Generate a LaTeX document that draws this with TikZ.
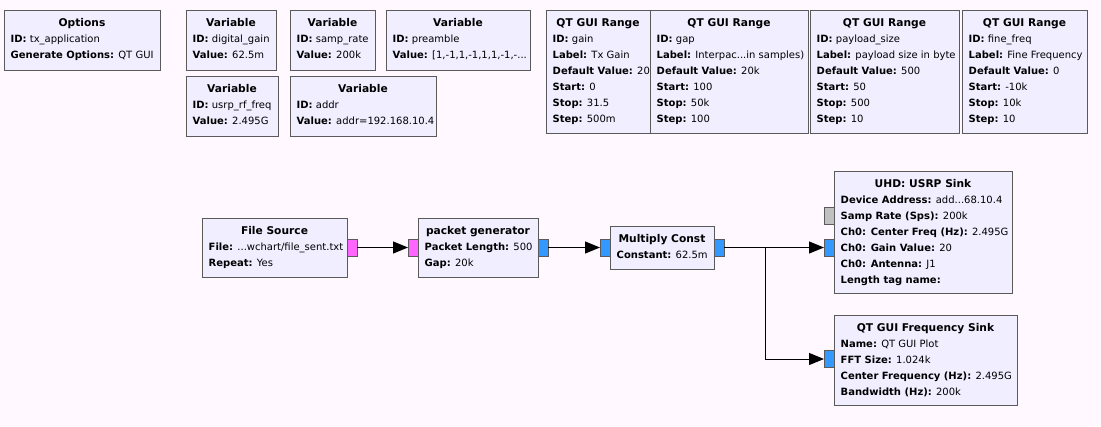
\documentclass[tikz,border=0pt]{standalone}
\usepackage{fontspec}
\setmainfont{DejaVu Sans}
\usetikzlibrary{arrows.meta}
\definecolor{canvas}{HTML}{FFF9FF}
\definecolor{blockfill}{HTML}{F0EEFF}
\definecolor{blockline}{HTML}{5A5A5A}
\definecolor{byteport}{HTML}{FF66FF}
\definecolor{cplxport}{HTML}{3399FF}
\definecolor{msgport}{HTML}{C0C0C0}
\tikzset{
  blockbox/.style={draw=blockline, fill=blockfill, line width=1pt, rectangle, inner sep=0pt, outer sep=0pt},
  port/.style={draw=blockline, line width=1pt, rectangle, inner sep=0pt, outer sep=0pt, minimum width=10pt, minimum height=17pt},
  conn/.style={draw=black, line width=1pt, -{Triangle[length=15pt,width=12pt]}},
  titletext/.style={anchor=base, inner sep=0pt, font=\bfseries\fontsize{10.67}{12}\selectfont},
  paramtext/.style={anchor=base west, inner sep=0pt, font=\fontsize{10}{12}\selectfont},
}
\newcommand\grcblock[6]{%
  \node[blockbox, minimum width={(#4-#2)*1pt}, minimum height={(#5-#3)*1pt}] (#1) at ({(#2+#4)/2},{(#3+#5)/2}) {};
  \node[titletext] (#1-t) at ([yshift=-16.5pt]#1.north) {#6};
}
\newcommand\grcparam[4]{%
  \node[paramtext] (#1-#2) at ([xshift=6.5pt,yshift={-(16.5+16*#2)*1pt}]#1.north west) {\textbf{#3:} #4};
}
\newcommand\grcport[6]{%
  \node[port, fill=#2, minimum width={(#5-#3)*1pt}, minimum height={(#6-#4)*1pt}] (#1) at ({(#3+#5)/2},{(#4+#6)/2}) {};
}
\begin{document}
\begin{tikzpicture}[x=1pt,y=-1pt]
\fill[canvas] (0,0) rectangle (1101,426);
\useasboundingbox (0,0) rectangle (1101,426);

% Options
\grcblock{opt}{4}{10}{160}{70}{Options}
\grcparam{opt}{1}{ID}{tx\_application}
\grcparam{opt}{2}{Generate Options}{QT GUI}

% Variables
\grcblock{va}{186}{10}{276}{70}{Variable}
\grcparam{va}{1}{ID}{digital\_gain}
\grcparam{va}{2}{Value}{62.5m}

\grcblock{vb}{290}{10}{375}{70}{Variable}
\grcparam{vb}{1}{ID}{samp\_rate}
\grcparam{vb}{2}{Value}{200k}

\grcblock{vc}{386}{10}{530}{70}{Variable}
\grcparam{vc}{1}{ID}{preamble}
\grcparam{vc}{2}{Value}{[1,-1,1,-1,1,1,-1,-...}

\grcblock{vd}{186}{76}{278}{136}{Variable}
\grcparam{vd}{1}{ID}{usrp\_rf\_freq}
\grcparam{vd}{2}{Value}{2.495G}

\grcblock{ve}{290}{76}{436}{136}{Variable}
\grcparam{ve}{1}{ID}{addr}
\grcparam{ve}{2}{Value}{addr=192.168.10.4}

% QT GUI Ranges
\grcblock{ra}{546}{10}{650}{133}{QT GUI Range}
\grcparam{ra}{1}{ID}{gain}
\grcparam{ra}{2}{Label}{Tx Gain}
\grcparam{ra}{3}{Default Value}{20}
\grcparam{ra}{4}{Start}{0}
\grcparam{ra}{5}{Stop}{31.5}
\grcparam{ra}{6}{Step}{500m}

\grcblock{rb}{650}{10}{808}{133}{QT GUI Range}
\grcparam{rb}{1}{ID}{gap}
\grcparam{rb}{2}{Label}{Interpac...in samples)}
\grcparam{rb}{3}{Default Value}{20k}
\grcparam{rb}{4}{Start}{100}
\grcparam{rb}{5}{Stop}{50k}
\grcparam{rb}{6}{Step}{100}

\grcblock{rc}{810}{10}{959}{133}{QT GUI Range}
\grcparam{rc}{1}{ID}{payload\_size}
\grcparam{rc}{2}{Label}{payload size in byte}
\grcparam{rc}{3}{Default Value}{500}
\grcparam{rc}{4}{Start}{50}
\grcparam{rc}{5}{Stop}{500}
\grcparam{rc}{6}{Step}{10}

\grcblock{rd}{962}{10}{1087}{133}{QT GUI Range}
\grcparam{rd}{1}{ID}{fine\_freq}
\grcparam{rd}{2}{Label}{Fine Frequency}
\grcparam{rd}{3}{Default Value}{0}
\grcparam{rd}{4}{Start}{-10k}
\grcparam{rd}{5}{Stop}{10k}
\grcparam{rd}{6}{Step}{10}

% Flow blocks
\grcblock{fs}{202}{218}{347}{277}{File Source}
\grcparam{fs}{1}{File}{...wchart/file\_sent.txt}
\grcparam{fs}{2}{Repeat}{Yes}
\grcport{fs-out}{byteport}{347}{239}{357}{256}

\grcblock{pg}{418}{218}{538}{277}{packet generator}
\grcparam{pg}{1}{Packet Length}{500}
\grcparam{pg}{2}{Gap}{20k}
\grcport{pg-in}{byteport}{408}{239}{418}{256}
\grcport{pg-out}{cplxport}{538}{239}{548}{256}

\grcblock{mc}{610}{226}{714}{269}{Multiply Const}
\grcparam{mc}{1}{Constant}{62.5m}
\grcport{mc-in}{cplxport}{600}{239}{610}{256}
\grcport{mc-out}{cplxport}{714}{239}{724}{256}

\grcblock{us}{834}{171}{1012}{293}{UHD: USRP Sink}
\grcparam{us}{1}{Device Address}{add...68.10.4}
\grcparam{us}{2}{Samp Rate (Sps)}{200k}
\grcparam{us}{3}{Ch0: Center Freq (Hz)}{2.495G}
\grcparam{us}{4}{Ch0: Gain Value}{20}
\grcparam{us}{5}{Ch0: Antenna}{J1}
\grcparam{us}{6}{Length tag name}{}
\grcport{us-msg}{msgport}{824}{207}{834}{224}
\grcport{us-in}{cplxport}{824}{239}{834}{256}

\grcblock{fq}{834}{315}{1017}{405}{QT GUI Frequency Sink}
\grcparam{fq}{1}{Name}{QT GUI Plot}
\grcparam{fq}{2}{FFT Size}{1.024k}
\grcparam{fq}{3}{Center Frequency (Hz)}{2.495G}
\grcparam{fq}{4}{Bandwidth (Hz)}{200k}
\grcport{fq-in}{cplxport}{824}{350.5}{834}{367.5}

% Connections
\draw[conn] (fs-out.east) -- (pg-in.west);
\draw[conn] (pg-out.east) -- (mc-in.west);
\draw[conn] (mc-out.east) -- (us-in.west);
\path (mc-out.east) ++(41.5,0) coordinate (br);
\draw[conn] (br) |- (fq-in.west);
\end{tikzpicture}
\end{document}
